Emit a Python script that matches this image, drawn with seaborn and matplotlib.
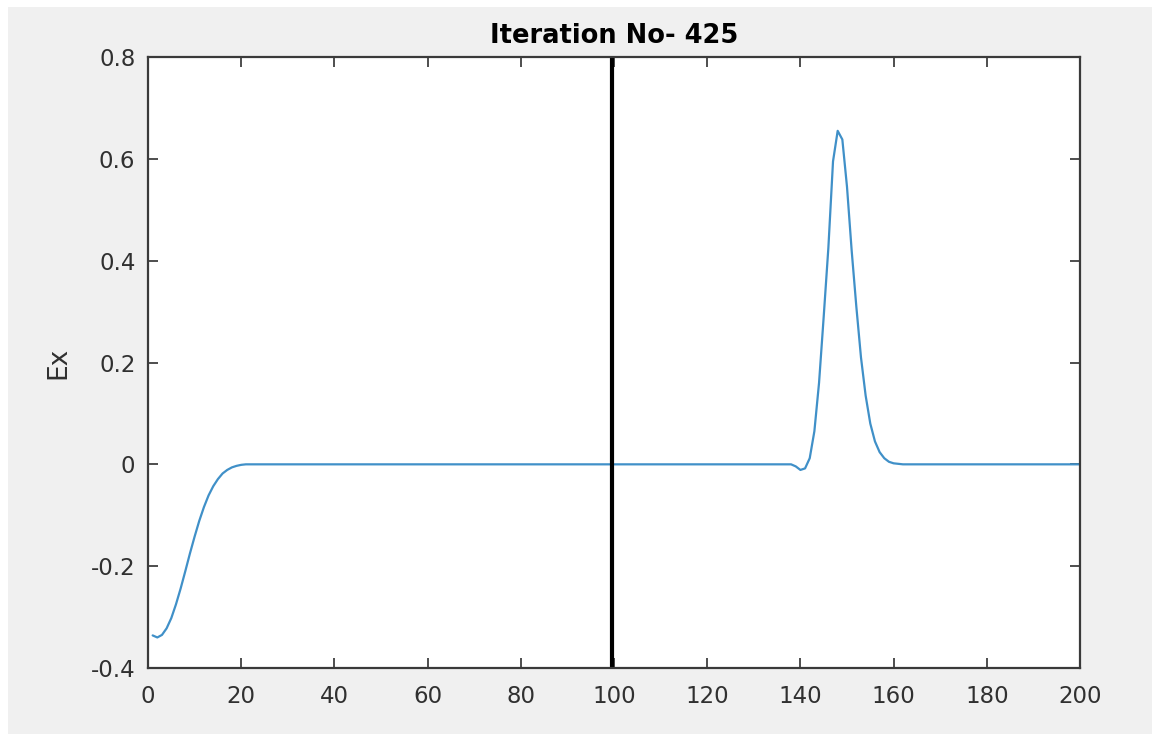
import matplotlib
matplotlib.use("Agg")
import matplotlib.pyplot as plt
from matplotlib.patches import Rectangle
import seaborn as sns
import pandas as pd

# ---- data ----
x_pos = list(range(1, 201))
ex_values = [
    -0.336, -0.340, -0.335, -0.322, -0.302, -0.275, -0.244, -0.210, -0.175, -0.142,
    -0.111, -0.084, -0.061, -0.043, -0.029, -0.018, -0.011, -0.006, -0.003, -0.001,
    0, 0, 0, 0, 0, 0, 0, 0, 0, 0, 0, 0, 0, 0, 0, 0, 0, 0, 0, 0,
    0, 0, 0, 0, 0, 0, 0, 0, 0, 0, 0, 0, 0, 0, 0, 0, 0, 0, 0, 0,
    0, 0, 0, 0, 0, 0, 0, 0, 0, 0, 0, 0, 0, 0, 0, 0, 0, 0, 0, 0,
    0, 0, 0, 0, 0, 0, 0, 0, 0, 0, 0, 0, 0, 0, 0, 0, 0, 0, 0, 0,
    0, 0, 0, 0, 0, 0, 0, 0, 0, 0, 0, 0, 0, 0, 0, 0, 0, 0, 0, 0,
    0, 0, 0, 0, 0, 0, 0, 0, 0, 0, 0, 0, 0, 0, 0, 0, 0, 0, -0.004, -0.011,
    -0.008, 0.012, 0.065, 0.160, 0.290, 0.425, 0.595, 0.655, 0.638, 0.545,
    0.420, 0.310, 0.210, 0.135, 0.080, 0.045, 0.024, 0.012, 0.005, 0.002,
    0.001, 0, 0, 0, 0, 0, 0, 0, 0, 0, 0, 0, 0, 0, 0, 0, 0, 0, 0, 0,
    0, 0, 0, 0, 0, 0, 0, 0, 0, 0, 0, 0, 0, 0, 0, 0, 0, 0, 0, 0,
]
marker_x = 99.5
x_ticks = [0, 20, 40, 60, 80, 100, 120, 140, 160, 180, 200]
y_ticks = [-0.4, -0.2, 0, 0.2, 0.4, 0.6, 0.8]
y_tick_labels = ["-0.4", "-0.2", "0", "0.2", "0.4", "0.6", "0.8"]
title_text = "Iteration No- 425"
y_label = "Ex"

df = pd.DataFrame({"x": x_pos, "Ex": ex_values})

sns.set_style("ticks")
plt.rcParams["font.family"] = ["DejaVu Sans"]

fig = plt.figure(figsize=(11.52, 7.34), dpi=100, facecolor="white")
fig.add_artist(Rectangle((8 / 1152, 0), 1, (734 - 7) / 734, transform=fig.transFigure,
                         facecolor="#f0f0f0", edgecolor="none", zorder=-10))
ax = fig.add_axes([148 / 1152, (734 - 668) / 734, (1080 - 148) / 1152, (668 - 57) / 734])
ax.set_facecolor("white")

sns.lineplot(data=df, x="x", y="Ex", ax=ax, color="#4090c8", linewidth=1.6)
ax.axvline(marker_x, color="black", linewidth=3)

ax.set_xlim(0, 200)
ax.set_ylim(-0.4, 0.8)
ax.set_xticks(x_ticks)
ax.set_xticklabels([str(t) for t in x_ticks])
ax.set_yticks(y_ticks)
ax.set_yticklabels(y_tick_labels)

tick_color = "#303030"
ax.tick_params(axis="both", direction="in", length=7, width=1.2, colors=tick_color,
               labelsize=16.5, top=True, right=True)
ax.tick_params(axis="x", pad=12)
ax.tick_params(axis="y", pad=9)
for s in ax.spines.values():
    s.set_visible(True)
    s.set_color("#3a3a3a")
    s.set_linewidth(1.6)

ax.set_xlabel("")
ax.set_ylabel(y_label, fontsize=19, color=tick_color, labelpad=14)
ax.set_title(title_text, fontsize=18.5, fontweight="bold", color="black", pad=10)

fig.savefig("out.png", dpi=100, facecolor=fig.get_facecolor())
